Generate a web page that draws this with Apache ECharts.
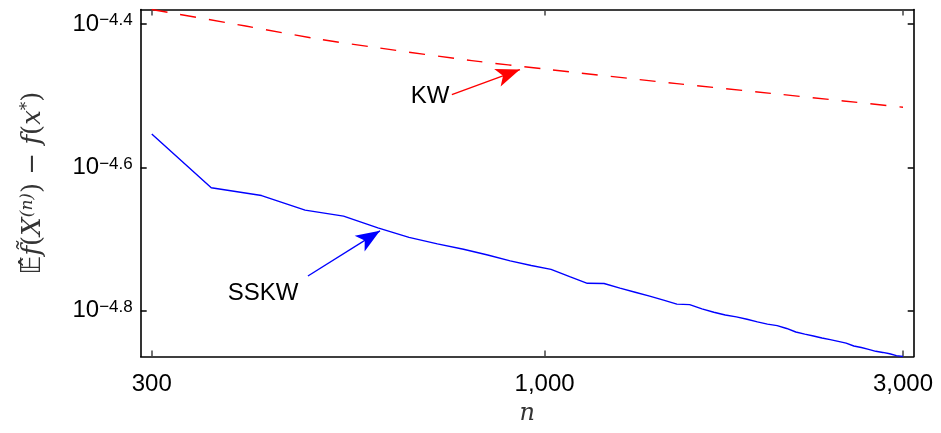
<!DOCTYPE html>
<html>
<head>
<meta charset="utf-8">
<script src="https://cdn.jsdelivr.net/npm/echarts@6/dist/echarts.min.js"></script>
<style>html,body{margin:0;padding:0;background:#fff;}#c{width:941px;height:433px;}</style>
</head>
<body>
<div id="c"></div>
<script>
// ---- data ----
const nValues = [300, 360, 420, 480, 540, 600, 660, 720, 780, 840, 900, 960, 1020, 1080, 1140, 1200,
  1260, 1320, 1380, 1440, 1500, 1560, 1620, 1680, 1740, 1800, 1860, 1920, 1980, 2040, 2100, 2160,
  2220, 2280, 2340, 2400, 2460, 2520, 2580, 2640, 2700, 2760, 2820, 2880, 2940, 3000];
const sskwValues = [2.797e-5, 2.353e-5, 2.295e-5, 2.190e-5, 2.148e-5, 2.069e-5, 2.006e-5, 1.965e-5,
  1.931e-5, 1.896e-5, 1.860e-5, 1.833e-5, 1.810e-5, 1.768e-5, 1.731e-5, 1.730e-5,
  1.704e-5, 1.682e-5, 1.661e-5, 1.640e-5, 1.619e-5, 1.616e-5, 1.594e-5, 1.577e-5,
  1.563e-5, 1.554e-5, 1.542e-5, 1.529e-5, 1.518e-5, 1.511e-5, 1.497e-5, 1.480e-5,
  1.470e-5, 1.461e-5, 1.452e-5, 1.444e-5, 1.436e-5, 1.428e-5, 1.415e-5, 1.408e-5,
  1.400e-5, 1.391e-5, 1.386e-5, 1.380e-5, 1.372e-5, 1.368e-5];
const kwN = [300, 400, 500, 600, 800, 1000, 1500, 2000, 2500, 3000];
const kwValues = [4.174e-5, 3.958e-5, 3.796e-5, 3.690e-5, 3.542e-5, 3.447e-5, 3.289e-5, 3.188e-5, 3.111e-5, 3.049e-5];
const xTickValues = [300, 1000, 3000];
const yTickExponents = [-4.8, -4.6, -4.4];
const xRange = [290, 3100];
// annotation anchors (data units): [n, value]
const kwArrow = [[752.6, 3.175e-5], [927.3, 3.441e-5]];
const kwText = [703.9, 3.153e-5];
const sskwArrow = [[484.2, 1.772e-5], [603.8, 2.049e-5]];
const sskwText = [422.0, 1.678e-5];

// ---- chart ----
const L = Math.log10;
const toPt = p => [L(p[0]), L(p[1])];
const sskwData = nValues.map((v, i) => [L(v), L(sskwValues[i])]);
const kwData = kwN.map((v, i) => [L(v), L(kwValues[i])]);
const yMin = L(sskwValues[sskwValues.length - 1]);
const yMax = L(kwValues[0]);
const xTicks = xTickValues.map(L);

const chart = echarts.init(document.getElementById('c'), null, {renderer: 'canvas'});
const frame = {show: true, onZero: false, lineStyle: {color: '#000', width: 1.6}};
const labelFont = 'Liberation Sans, Arial, sans-serif';
const serif = 'DejaVu Serif, Liberation Serif, serif';

function xAxisDef(pos, showLabel) {
  return {
    type: 'value', position: pos, min: L(xRange[0]), max: L(xRange[1]),
    axisLine: frame, splitLine: {show: false},
    axisTick: {show: true, inside: true, length: 6, customValues: xTicks, lineStyle: {color: '#444', width: 1.5}},
    axisLabel: showLabel ? {show: true, customValues: xTicks, margin: 16, color: '#000', fontFamily: labelFont, fontSize: 24,
      formatter: v => Math.round(Math.pow(10, v)).toLocaleString('en-US')} : {show: false},
    name: showLabel ? 'n' : '', nameLocation: 'middle', nameGap: 40,
    nameTextStyle: {fontFamily: serif, fontStyle: 'italic', fontSize: 24, color: '#333'}
  };
}
function yAxisDef(pos, showLabel) {
  return {
    type: 'value', position: pos, min: yMin, max: yMax,
    axisLine: frame, splitLine: {show: false},
    axisTick: {show: true, inside: true, length: 6, customValues: yTickExponents, lineStyle: {color: '#000', width: 1.5}},
    axisLabel: showLabel ? {show: true, customValues: yTickExponents, margin: 8, color: '#000',
      formatter: v => '{a|10}{b|' + v.toFixed(1).replace('-', '\u2212') + '}',
      rich: {
        a: {fontFamily: labelFont, fontSize: 24, color: '#000', verticalAlign: 'bottom', lineHeight: 24, padding: [6, 0, 0, 0]},
        b: {fontFamily: labelFont, fontSize: 17, color: '#000', verticalAlign: 'top', lineHeight: 17, padding: [0, 0, 16, 0]}
      }} : {show: false},
    name: showLabel ? '{e|\u{1D53C}\u0302}{i|f\u0303}{n|(}{i|X}{s|(n)}{n|) \u2212 }{i|f}{n|(}{i|x}{s|*}{n|)}' : '',
    nameLocation: 'middle', nameGap: 92, nameRotate: 90,
    nameTextStyle: {color: '#333', rich: {
      e: {fontFamily: 'DejaVu Sans', fontSize: 26, color: '#333'},
      i: {fontFamily: serif, fontStyle: 'italic', fontSize: 26, color: '#333'},
      n: {fontFamily: serif, fontSize: 26, color: '#333'},
      s: {fontFamily: serif, fontStyle: 'italic', fontSize: 17, color: '#333', verticalAlign: 'top', padding: [0, 0, 13, 0]}
    }}
  };
}

function arrowLine(pts, color, txt, txtPt) {
  return {
    type: 'line', data: [], silent: true,
    markLine: {
      silent: true, symbol: ['none', 'arrow'], symbolSize: [14, 24], animation: false,
      lineStyle: {color: color, width: 1.4, type: 'solid'},
      label: {show: false},
      data: [[{coord: toPt(pts[0])}, {coord: toPt(pts[1])}]]
    },
    markPoint: {
      silent: true, symbol: 'circle', symbolSize: 1, itemStyle: {color: 'rgba(0,0,0,0)'},
      label: {show: true, position: 'inside', formatter: txt, color: '#000', fontFamily: labelFont, fontSize: 24},
      data: [{coord: toPt(txtPt), name: txt}]
    }
  };
}

chart.setOption({
  animation: false,
  backgroundColor: '#fff',
  grid: {left: 140.7, right: 27.3, top: 9.5, bottom: 76.5, containLabel: false},
  xAxis: [xAxisDef('bottom', true), xAxisDef('top', false)],
  yAxis: [yAxisDef('left', true), yAxisDef('right', false)],
  series: [
    {type: 'line', name: 'KW', data: kwData, showSymbol: false, symbol: 'none', smooth: 0.3,
     lineStyle: {color: '#ff0000', width: 1.4, type: [16, 13]}},
    {type: 'line', name: 'SSKW', data: sskwData, showSymbol: false, symbol: 'none',
     lineStyle: {color: '#0000ff', width: 1.4}},
    arrowLine(kwArrow, '#ff0000', 'KW', kwText),
    arrowLine(sskwArrow, '#0000ff', 'SSKW', sskwText)
  ]
});
</script>
</body>
</html>
